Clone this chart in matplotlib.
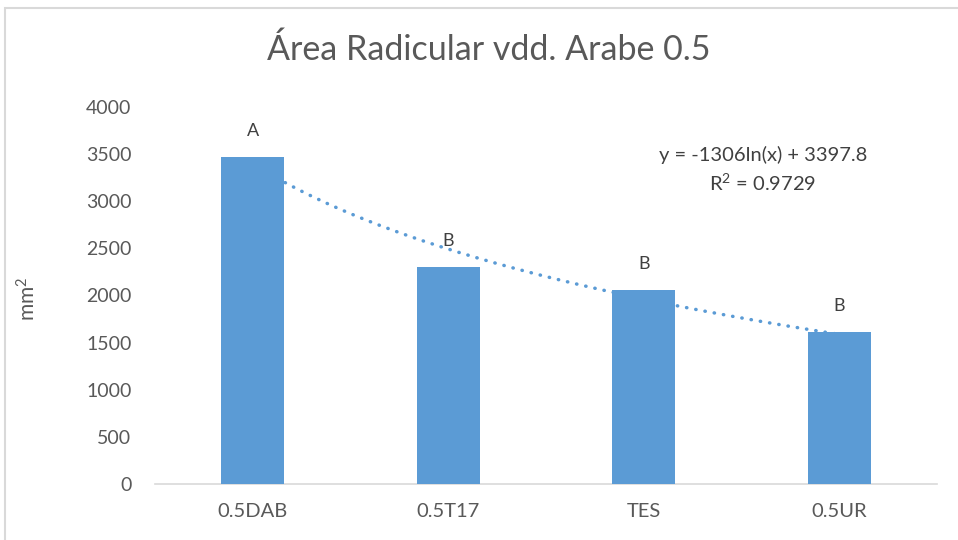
import numpy as np
import matplotlib.pyplot as plt
from matplotlib.patches import Rectangle

# data
categories = ["0.5DAB", "0.5T17", "TES", "0.5UR"]
area = [3470, 2300, 2060, 1610]
letters = ["A", "B", "B", "B"]
yticks = [0, 500, 1000, 1500, 2000, 2500, 3000, 3500, 4000]

# log trendline from the chart
a_coef = -1306
b_coef = 3397.8

plt.rcParams['font.family'] = ['Lato', 'DejaVu Sans']
plt.rcParams['mathtext.fontset'] = 'custom'
plt.rcParams['mathtext.rm'] = 'Lato'
plt.rcParams['mathtext.default'] = 'rm'

fig = plt.figure(figsize=(9.58, 5.40), dpi=100)
ax = fig.add_axes([155/958, 1 - 484/540, (937-155)/958, (484-107)/540])

bar_color = "#5b9bd5"
text_color = "#595959"
x = np.arange(len(categories))

ax.bar(x, area, width=0.32, color=bar_color, zorder=3)

# trendline y = a ln(x) + b, with x = 1..n
xt = np.linspace(1, len(categories), 200)
yt = a_coef*np.log(xt) + b_coef
ax.plot(xt - 1, yt, color=bar_color, lw=2.5, linestyle=(0, (0.1, 2.6)),
        dash_capstyle='round', zorder=2)

for i in range(len(categories)):
    ax.annotate(letters[i], (x[i], area[i]), xytext=(0, 13), textcoords='offset points',
                ha='center', va='bottom', fontsize=13, color='#404040')

ax.text(2.61, 3490, "y = -1306ln(x) + 3397.8", ha='center', va='center',
        fontsize=14.5, color='#404040')
ax.text(2.61, 3195, "R$^2$ = 0.9729", ha='center', va='center',
        fontsize=14.5, color='#404040')

ax.set_xlim(-0.5, len(categories) - 0.5)
ax.set_ylim(0, 4000)
ax.set_yticks(yticks)
ax.set_xticks(x)
ax.set_xticklabels(categories)
ax.tick_params(axis='both', length=0, labelsize=14, labelcolor=text_color)
ax.tick_params(axis='y', pad=17)
ax.tick_params(axis='x', labelsize=14.5, pad=14)

for s in ['top', 'right', 'left']:
    ax.spines[s].set_visible(False)
ax.spines['bottom'].set_color('#d9d9d9')
ax.spines['bottom'].set_linewidth(1.2)

ax.set_ylabel("mm$^2$", fontsize=15, color=text_color)
ax.yaxis.set_label_coords((40-155)/782, 0.49)
fig.text(489/958, 1 - 50/540, "Área Radicular vdd. Arabe 0.5", ha='center', va='center',
         fontsize=24.5, color=text_color)

fig.patches.append(Rectangle((5/958, -0.05), 1.0, 1.05 - 8/540, transform=fig.transFigure,
                             fill=False, edgecolor='#d9d9d9', lw=1.5))

fig.savefig("out.png", dpi=100)
